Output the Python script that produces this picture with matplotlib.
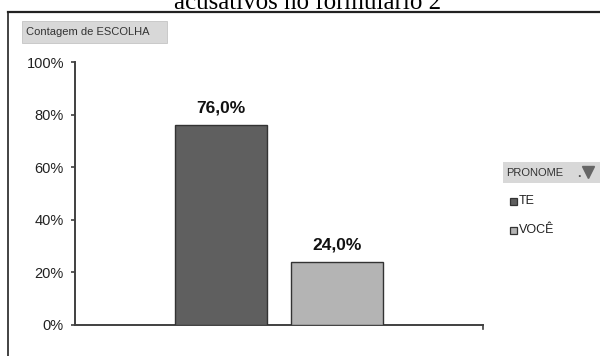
import matplotlib.pyplot as plt
from matplotlib.lines import Line2D
from matplotlib.patches import Rectangle

plt.rcParams['font.family'] = ['Liberation Sans', 'DejaVu Sans']

# Data
categorias = ['TE', 'VOCÊ']
valores = [0.760, 0.240]
cores = ['#5f5f5f', '#b4b4b4']
ticks_y = [0, 0.2, 0.4, 0.6, 0.8, 1.0]
rotulos_y = ['0%', '20%', '40%', '60%', '80%', '100%']

W, H = 600, 356
fig = plt.figure(figsize=(6, 3.56), dpi=100)


def fx(px):
    return px / W


def fy(py):
    return 1 - py / H


# title line cut at the top of the image
fig.text(fx(308), fy(9), 'acusativos no formulário 2', ha='center', va='baseline',
         fontsize=18, family=['Liberation Serif', 'DejaVu Serif'], color='black')

# outer frame (top and left edges)
fig.add_artist(Line2D([fx(8), 1.0], [fy(12), fy(12)], color='#222222', lw=1.6))
fig.add_artist(Line2D([fx(8), fx(8)], [0, fy(12)], color='#222222', lw=1.2))

# "Contagem de ESCOLHA" field button
fig.add_artist(Rectangle((fx(22), fy(43)), fx(145), 22 / H, fc='#d8d8d8', ec='#c4c4c4',
                         lw=0.6, transform=fig.transFigure))
fig.text(fx(26), fy(32), 'Contagem de ESCOLHA', ha='left', va='center', fontsize=8,
         color='#333333')

ax = fig.add_axes([fx(75), fy(325), 408 / W, (325 - 62) / H])
posicoes = [0, 1]
ax.bar(posicoes, valores, width=0.79, color=cores, edgecolor='#333333', linewidth=1.0,
       zorder=3)
ax.set_xlim(-1.256, 2.253)
ax.set_ylim(0, 1.0)

for x, v in zip(posicoes, valores):
    ax.text(x, v + 0.035, f'{v*100:.1f}%'.replace('.', ','), ha='center', va='bottom',
            fontsize=12.5, fontweight='bold', color='#111111')

ax.set_yticks(ticks_y)
ax.set_yticklabels(rotulos_y, fontsize=10.5, color='#222222')
ax.set_xticks([])
ax.tick_params(axis='y', direction='out', length=3, width=1.2, color='#404040', pad=5)
for s in ['top', 'right']:
    ax.spines[s].set_visible(False)
ax.spines['left'].set_color('#404040')
ax.spines['left'].set_linewidth(1.4)
ax.spines['bottom'].set_color('#404040')
ax.spines['bottom'].set_linewidth(1.4)
ax.plot([1, 1], [0, -0.015], transform=ax.transAxes, color='#404040', lw=1.2,
        clip_on=False)

# legend (pivot field style)
fig.add_artist(Rectangle((fx(503), fy(183)), fx(97), 21 / H, fc='#d8d8d8', ec='none',
                         transform=fig.transFigure))
fig.text(fx(506), fy(173), 'PRONOME', ha='left', va='center', fontsize=8,
         color='#333333')
fig.text(fx(579), fy(174), '.', ha='center', va='center', fontsize=9,
         fontweight='bold', color='#555555')
fig.add_artist(Line2D([fx(588)], [fy(172)], marker='v', markersize=8,
                      color='#666666', ls='none'))
for i, (nome, cor) in enumerate(zip(categorias, cores)):
    y = fy(201 + 29 * i)
    fig.add_artist(Rectangle((fx(510), y - 3.5 / H), fx(7), 7 / H, fc=cor,
                             ec='#333333', lw=0.9, transform=fig.transFigure))
    fig.text(fx(519), y, nome, ha='left', va='center', fontsize=9, color='#222222')

fig.savefig('out.png', dpi=100, facecolor='white')
